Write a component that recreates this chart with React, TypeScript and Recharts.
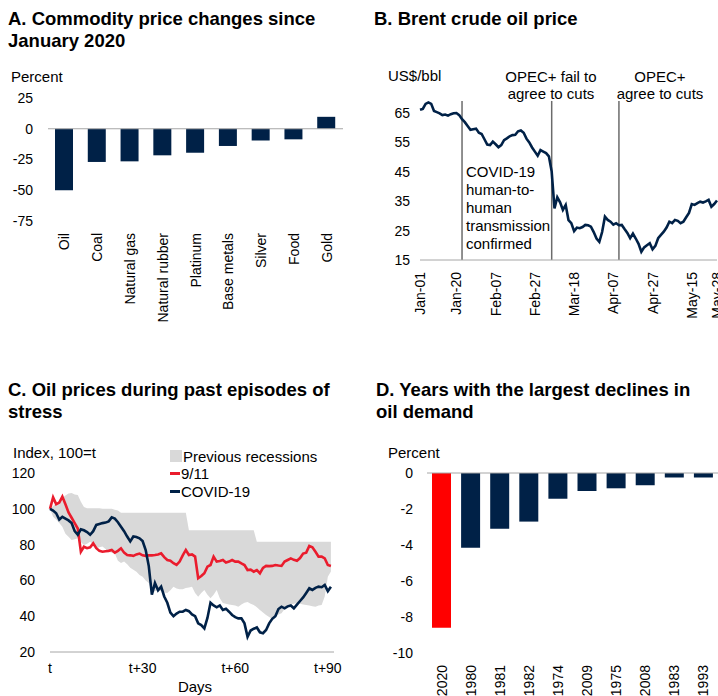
import React from "react";
import {
  BarChart,
  Bar,
  Cell,
  LineChart,
  Line,
  ComposedChart,
  Area,
  XAxis,
  YAxis,
  ReferenceLine,
  Legend,
} from "recharts";

// ---------- Panel A ----------
const commodityNames = ["Oil", "Coal", "Natural gas", "Natural rubber", "Platinum", "Base metals", "Silver", "Food", "Gold"];
const commodityChange = [-50, -27, -26.5, -21.6, -19.5, -14, -9.5, -8.6, 9.7];
const aTicks = [-75, -50, -25, 0, 25];

// ---------- Panel B ----------
const brentTickIdx = [0, 13, 27, 41, 55, 69, 83, 97, 106];
const brentTickLabels = ["Jan-01", "Jan-20", "Feb-07", "Feb-27", "Mar-18", "Apr-07", "Apr-27", "May-15", "May-28"];
const brentPrice = [
  66.0, 66.3, 68.0, 68.5, 68.0, 65.6, 65.2, 64.8, 64.2, 64.4,
  64.0, 64.5, 64.8, 64.9, 64.2, 62.8, 61.8, 60.5, 59.2, 59.4,
  59.6, 58.2, 57.8, 56.0, 54.2, 54.0, 55.2, 54.3, 53.3, 54.0,
  55.7, 56.3, 57.0, 57.4, 57.5, 58.7, 59.0, 58.2, 56.2, 54.9,
  53.2, 51.8, 50.4, 52.3, 51.8, 51.3, 50.2, 45.0, 32.5, 36.3,
  34.6, 32.0, 33.7, 28.5, 27.5, 24.8, 26.0, 25.8, 26.2, 26.9,
  26.8, 26.3, 24.5, 22.3, 21.2, 24.5, 29.7, 28.6, 28.0, 27.0,
  27.5, 26.8, 26.9, 25.5, 24.2, 22.4, 24.0, 22.3, 20.5, 17.8,
  19.3, 20.0, 20.7, 18.6, 19.8, 22.4, 23.5, 24.6, 26.0, 28.0,
  27.5, 28.6, 28.3, 27.5, 28.0, 29.5, 31.0, 34.0, 33.7, 34.3,
  34.8, 34.5, 34.9, 35.4, 33.1, 34.0, 35.2,
];
const brentEventIdx = [15, 47, 71];
const brentTicksY = [15, 25, 35, 45, 55, 65];

// ---------- Panel C ----------
const stressTickDays = [0, 30, 60, 90];
const stressTickLabels = ["t", "t+30", "t+60", "t+90"];
const stressTicksY = [20, 40, 60, 80, 100, 120];
const covid = [
  100, 99, 97.5, 94, 95.5, 94.5, 93.5, 92, 87.5, 85.5,
  88.5, 88, 87, 85.5, 87.5, 91, 91.5, 92, 92.3, 93,
  95.2, 94.5, 92.5, 90, 87.5, 84.5, 81.8, 84.5, 84.2, 83.5,
  82, 77, 68, 52, 58.5, 54.5, 56.5, 51, 47.5, 42,
  40, 41.5, 42.5, 42.5, 43.5, 42.8, 41, 40, 36, 35,
  33.2, 39, 47.5, 46, 45, 46, 43.5, 44.2, 42.5, 40.7,
  39.5, 38.8, 38.8, 36, 28.5, 32, 33, 33.7, 31, 30.5,
  32.3, 36, 38.5, 40, 44, 45.3, 44.4, 45.5, 46, 44.4,
  46.5, 48.5, 50.5, 53, 55.6, 54.7, 55.8, 56.5, 56.2, 57.5,
  54, 56.5,
];
const sept11 = [
  100, 106.4, 102.6, 103.5, 106.8, 102.5, 98, 95, 92, 89,
  76, 78.8, 78, 78.5, 80.7, 78, 76.5, 76, 76.3, 76.5,
  77, 75.5, 76.5, 77.9, 75.5, 74.2, 74, 73.7, 74.5, 75,
  74, 73.7, 74, 74, 74.2, 74.5, 75.1, 73, 71.4, 71,
  69.6, 68.7, 70.5, 74, 77, 74.2, 74.5, 73.3, 61.2, 62.5,
  64, 67.7, 68.6, 73.3, 70.5, 70.8, 71.4, 70, 70.5, 71.4,
  70.5, 70.5, 69.5, 68.6, 65.8, 66, 64.9, 65.8, 64, 67,
  68.1, 68, 68.1, 68.6, 68.3, 68.1, 70.5, 71.4, 72.3, 71.5,
  71, 72.5, 75, 75.5, 79.2, 78.5, 76, 73.3, 73.3, 72.3,
  68.6, 68.1,
];
const recessionLow = [
  100, 95.6, 94, 92, 90, 86, 84.4, 82.6, 83, 83.5,
  81.5, 79.8, 80.5, 81.6, 80, 78, 78.5, 79, 77.5, 76,
  75.5, 75, 71, 69.7, 70.5, 69, 67, 66, 64.9, 63,
  62, 60, 58.5, 53.7, 54, 54.6, 54, 53.2, 53, 54.5,
  56.5, 55.5, 55, 55, 55.7, 56, 56.5, 53, 50.9, 53,
  54.6, 52, 50, 52, 54.6, 50, 47.4, 47, 46.5, 46.3,
  46, 45.3, 46.5, 47.5, 48, 47, 46.3, 45, 43.5, 42,
  40.7, 39.5, 38.5, 39.5, 41, 41.6, 44, 46.3, 46.5, 47,
  47.4, 47, 46.5, 46.3, 46, 45.5, 45.3, 46, 46.3, 51,
  62, 65,
];
const recessionHigh = [
  100, 101.5, 103, 104.5, 106, 107.5, 108.5, 108.8, 108, 107.7,
  104, 101, 100.3, 100.3, 100.3, 100.3, 100.3, 100, 100, 100,
  100, 99.5, 99, 97.8, 97.8, 97.8, 97.8, 97.8, 97.8, 97.8,
  97.8, 97.8, 97.8, 97.8, 97.8, 97.8, 97.8, 97.8, 97.8, 97.8,
  97.8, 97.8, 97.8, 97.8, 97.8, 88, 88, 88, 88, 88,
  88, 88, 88, 88, 88, 88, 88, 88, 88, 88,
  88, 88, 88, 88, 88, 88, 88, 81.6, 81.6, 81.6,
  81.6, 81.6, 81.6, 81.6, 81.6, 81.6, 81.6, 81.6, 81.6, 81.6,
  81.6, 81.6, 81.6, 81.6, 81.6, 81.6, 81.6, 81.6, 81.6, 81.6,
  81.6, 81.6,
];

// ---------- Panel D ----------
const demandYears = ["2020", "1980", "1981", "1982", "1974", "2009", "1975", "2008", "1983", "1993"];
const demandChange = [-8.6, -4.15, -3.1, -2.7, -1.43, -1.0, -0.85, -0.68, -0.25, -0.25];
const dTicks = [-10, -8, -6, -4, -2, 0];

// ---------- built tables ----------
const aData = commodityNames.map((name, i) => ({ name, v: commodityChange[i] }));
const brentData = brentPrice.map((v, i) => ({ i, v }));
const stressData = covid.map((c, d) => ({
  d,
  covid: c,
  sept: sept11[d],
  range: [recessionLow[d], recessionHigh[d]],
}));
const dData = demandYears.map((year, i) => ({ year, v: demandChange[i] }));

const NAVY = "#002147";
const RED = "#ea1c2d";
const AXIS_GRAY = "#a6a6a6";
const FONT = "'Liberation Sans', Arial, Helvetica, sans-serif";
const tickStyle = { fontSize: 14, fill: "#000" };

function RotTick(props: any) {
  const { x, y, label, gap } = props;
  const yy = y + gap;
  return (
    <text
      x={x}
      y={yy}
      transform={`rotate(-90 ${x} ${yy})`}
      textAnchor="end"
      dominantBaseline="central"
      fontSize={14}
      fill="#000"
    >
      {label}
    </text>
  );
}

const abs = (left: number, top: number): React.CSSProperties => ({ position: "absolute", left, top });
const titleStyle: React.CSSProperties = { fontWeight: "bold", fontSize: 18.5, lineHeight: "22px", whiteSpace: "nowrap" };
const labelStyle: React.CSSProperties = { fontSize: 15, lineHeight: "18px", whiteSpace: "nowrap" };

function StressLegend() {
  const row: React.CSSProperties = { display: "flex", alignItems: "center", height: 17.5, fontSize: 15, whiteSpace: "nowrap", color: "#000" };
  return (
    <div style={{ fontFamily: FONT }}>
      <div style={row}>
        <span style={{ width: 12, height: 12, background: "#d9d9d9", display: "inline-block", marginRight: 1 }} />
        <span>Previous recessions</span>
      </div>
      <div style={row}>
        <span style={{ width: 10, height: 3, background: RED, display: "inline-block", marginRight: 1 }} />
        <span>9/11</span>
      </div>
      <div style={row}>
        <span style={{ width: 10, height: 3, background: NAVY, display: "inline-block", marginRight: 1 }} />
        <span>COVID-19</span>
      </div>
    </div>
  );
}

export default function App() {
  return (
    <div style={{ position: "absolute", left: 0, top: 0, width: 718, height: 696, background: "#fff", fontFamily: FONT, color: "#000", overflow: "hidden" }}>
      {/* Titles */}
      <div style={{ ...abs(8, 8), ...titleStyle }}>
        A. Commodity price changes since
        <br />
        January 2020
      </div>
      <div style={{ ...abs(374, 8), ...titleStyle }}>B. Brent crude oil price</div>
      <div style={{ ...abs(8, 379), ...titleStyle }}>
        C. Oil prices during past episodes of
        <br />
        stress
      </div>
      <div style={{ ...abs(376, 379), ...titleStyle }}>
        D. Years with the largest declines in
        <br />
        oil demand
      </div>

      {/* Panel A */}
      <div style={abs(0, 0)}>
        <BarChart width={360} height={330} data={aData} margin={{ top: 98, right: 17, bottom: 0, left: 0 }}>
          <XAxis
            dataKey="name"
            axisLine={false}
            tickLine={false}
            tickSize={0}
            height={109}
            interval={0}
            tick={(p: any) => <RotTick x={p.x} y={p.y} gap={10} label={p.payload.value} />}
          />
          <YAxis
            domain={[-75, 25]}
            ticks={aTicks}
            width={48}
            axisLine={false}
            tickLine={false}
            tickSize={0}
            tickMargin={15}
            tick={tickStyle}
            interval={0}
          />
          <Bar dataKey="v" fill={NAVY} barSize={18} isAnimationActive={false} />
          <ReferenceLine y={0} stroke={AXIS_GRAY} strokeWidth={1} />
        </BarChart>
      </div>
      <div style={{ ...abs(11, 68), ...labelStyle }}>Percent</div>

      {/* Panel B */}
      <div style={abs(360, 0)}>
        <LineChart width={358} height={330} data={brentData} margin={{ top: 98, right: 1, bottom: 0, left: 0 }}>
          <XAxis
            dataKey="i"
            type="number"
            domain={[0, 106]}
            ticks={brentTickIdx}
            interval={0}
            height={70}
            axisLine={{ stroke: AXIS_GRAY }}
            tickLine={false}
            tickSize={0}
            tick={(p: any) => (
              <RotTick x={p.x} y={p.y} gap={10} label={brentTickLabels[brentTickIdx.indexOf(p.payload.value)]} />
            )}
          />
          <YAxis
            domain={[15, 70]}
            ticks={brentTicksY}
            width={60}
            axisLine={false}
            tickLine={false}
            tickSize={0}
            tickMargin={10}
            tick={tickStyle}
            interval={0}
          />
          {brentEventIdx.map((e) => (
            <ReferenceLine
              key={e}
              segment={[
                { x: e, y: 15 },
                { x: e, y: 69 },
              ]}
              stroke="#6b6b6b"
              strokeWidth={1.5}
            />
          ))}
          <Line dataKey="v" stroke={NAVY} strokeWidth={2.6} dot={false} isAnimationActive={false} />
        </LineChart>
      </div>
      <div style={{ ...abs(388, 67), ...labelStyle }}>US$/bbl</div>
      <div style={{ ...abs(451, 67.5), ...labelStyle, lineHeight: "17.5px", width: 200, textAlign: "center" }}>
        OPEC+ fail to
        <br />
        agree to cuts
      </div>
      <div style={{ ...abs(560, 67.5), ...labelStyle, lineHeight: "17.5px", width: 200, textAlign: "center" }}>
        OPEC+
        <br />
        agree to cuts
      </div>
      <div style={{ ...abs(466, 163), ...labelStyle, lineHeight: "18px" }}>
        COVID-19
        <br />
        human-to-
        <br />
        human
        <br />
        transmission
        <br />
        confirmed
      </div>

      {/* Panel C */}
      <div style={abs(0, 380)}>
        <ComposedChart width={360} height={316} data={stressData} margin={{ top: 93, right: 26, bottom: 0, left: 0 }}>
          <XAxis
            dataKey="d"
            type="number"
            domain={[0, 92]}
            ticks={stressTickDays}
            interval={0}
            height={44}
            axisLine={{ stroke: AXIS_GRAY }}
            tickLine={false}
            tickSize={0}
            tickMargin={11}
            tick={tickStyle}
            tickFormatter={(v: number) => stressTickLabels[stressTickDays.indexOf(v)]}
          />
          <YAxis
            domain={[20, 120]}
            ticks={stressTicksY}
            width={50}
            axisLine={false}
            tickLine={false}
            tickSize={0}
            tickMargin={15}
            tick={tickStyle}
            interval={0}
          />
          <Area dataKey="range" fill="#d9d9d9" fillOpacity={1} stroke="none" isAnimationActive={false} />
          <Line dataKey="sept" stroke={RED} strokeWidth={2.6} dot={false} isAnimationActive={false} />
          <Line dataKey="covid" stroke={NAVY} strokeWidth={2.6} dot={false} isAnimationActive={false} />
          <Legend
            layout="vertical"
            align="center"
            verticalAlign="middle"
            wrapperStyle={{ left: 170, top: 67.5, width: 190, height: 53 }}
            content={() => <StressLegend />}
          />
        </ComposedChart>
      </div>
      <div style={{ ...abs(13, 444), ...labelStyle }}>Index, 100=t</div>
      <div style={{ ...abs(145, 678), ...labelStyle, width: 100, textAlign: "center" }}>Days</div>

      {/* Panel D */}
      <div style={abs(360, 380)}>
        <BarChart width={358} height={316} data={dData} margin={{ top: 93, right: 0, bottom: 0, left: 0 }}>
          <XAxis
            dataKey="year"
            axisLine={false}
            tickLine={false}
            tickSize={0}
            height={43}
            interval={0}
            tick={(p: any) => <RotTick x={p.x} y={p.y} gap={10} label={p.payload.value} />}
          />
          <YAxis
            domain={[-10, 0]}
            ticks={dTicks}
            width={67}
            axisLine={false}
            tickLine={false}
            tickSize={0}
            tickMargin={14}
            tick={tickStyle}
            interval={0}
          />
          <Bar dataKey="v" barSize={19} isAnimationActive={false}>
            {dData.map((d) => (
              <Cell key={d.year} fill={d.year === "2020" ? "#ff0000" : NAVY} />
            ))}
          </Bar>
          <ReferenceLine y={0} stroke={AXIS_GRAY} strokeWidth={1} />
        </BarChart>
      </div>
      <div style={{ ...abs(388, 444), ...labelStyle }}>Percent</div>
    </div>
  );
}
